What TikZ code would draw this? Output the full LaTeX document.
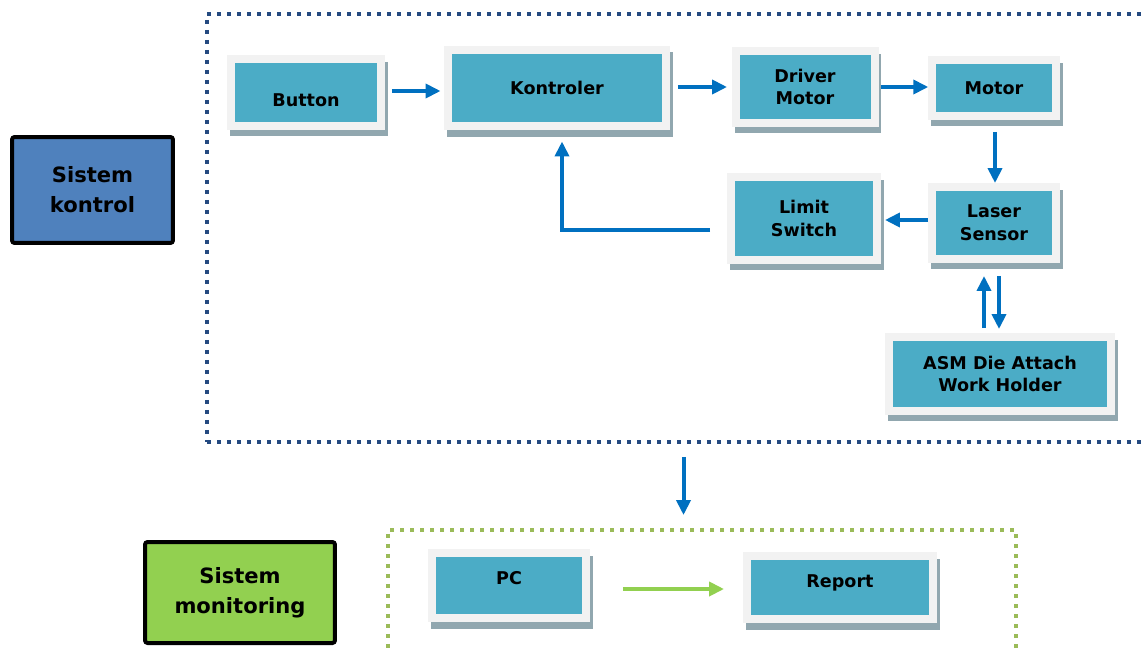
\documentclass[tikz,border=0pt]{standalone}
\usepackage{fontspec}
\setmainfont{DejaVu Sans}
\usetikzlibrary{arrows.meta,shadows}
\definecolor{biru}{RGB}{0,112,192}
\definecolor{birutua}{RGB}{36,74,128}
\definecolor{birusistem}{RGB}{79,129,189}
\definecolor{hijau}{RGB}{146,208,80}
\definecolor{hijaubingkai}{RGB}{155,187,89}
\definecolor{tosca}{RGB}{75,172,198}
\definecolor{abu}{RGB}{242,242,242}
\definecolor{bayang}{RGB}{145,167,175}

\begin{document}
\begin{tikzpicture}[x=0.02cm, y=-0.02cm]
\tikzset{kotak/.style={fill=tosca, draw=abu, line width=0.16cm, inner sep=0pt,
    align=center, font=\fontsize{10}{13}\selectfont\bfseries,
    drop shadow={shadow xshift=0.06cm, shadow yshift=-0.13cm, opacity=1,
      fill=bayang, draw=bayang, line width=0.16cm}},
  sistem/.style={draw=black, line width=0.08cm, rounded corners=1.5pt, inner sep=0pt,
    align=center, font=\fontsize{12}{17}\selectfont\bfseries},
  bingkai/.style={line width=0.08cm, dash pattern=on 0.08cm off 0.12cm, inner sep=0pt},
  panah/.style={draw=biru, line width=0.08cm, -{Triangle[length=0.3cm, width=0.28cm]}}}
\useasboundingbox (0,0) rectangle (1145,649);
\clip (0,0) rectangle (1145,649);
\node[bingkai, draw=birutua, minimum width=19.06cm, minimum height=8.56cm] (frameK) at (683.5,228) {};
\node[bingkai, draw=hijaubingkai, minimum width=12.56cm, minimum height=3.2cm] (frameM) at (702,610) {};
\node[sistem, fill=birusistem, minimum width=3.22cm, minimum height=2.12cm] (sisK) at (92.5,190) {Sistem\\kontrol};
\node[sistem, fill=hijau, minimum width=3.8cm, minimum height=2.02cm] (sisM) at (240,592.5) {Sistem\\monitoring};
\node[kotak, minimum width=3.0cm, minimum height=1.34cm,
  label={[font=\fontsize{10}{13}\selectfont\bfseries, yshift=-0.16cm]center:Button}] (button) at (306,92.5) {};
\node[kotak, minimum width=4.36cm, minimum height=1.54cm] (kontroler) at (557,88) {Kontroler};
\node[kotak, minimum width=2.78cm, minimum height=1.44cm] (driver) at (805,87) {Driver\\Motor};
\node[kotak, minimum width=2.47cm, minimum height=1.12cm] (motor) at (994,88) {Motor};
\node[kotak, minimum width=2.48cm, minimum height=1.44cm] (laser) at (994,223) {Laser\\Sensor};
\node[kotak, minimum width=2.92cm, minimum height=1.66cm] (limit) at (804,218.5) {Limit\\Switch};
\node[kotak, minimum width=4.44cm, minimum height=1.48cm] (asm) at (1000,374) {ASM Die Attach\\Work Holder};
\node[kotak, minimum width=3.08cm, minimum height=1.30cm,
  label={[font=\fontsize{10}{13}\selectfont\bfseries, yshift=0.14cm]center:PC}] (pc) at (509,585.5) {};
\node[kotak, minimum width=3.72cm, minimum height=1.26cm,
  label={[font=\fontsize{10}{13}\selectfont\bfseries, yshift=0.1cm]center:Report}] (report) at (840,587.5) {};
\draw[panah, shorten <=0.14cm, shorten >=0.07cm] ([yshift=0.03cm]button.east) -- ([yshift=0.03cm]button.east -| kontroler.west);
\draw[panah, shorten <=0.16cm, shorten >=0.09cm] ([yshift=0.02cm]kontroler.east) -- ([yshift=0.02cm]kontroler.east -| driver.west);
\draw[panah, shorten <=0.06cm] (driver.east) -- (driver.east -| motor.west);
\draw[panah, shorten <=0.24cm] ([xshift=0.02cm]motor.south) -- ([xshift=0.02cm]laser.north);
\draw[panah, shorten >=0.08cm] ([yshift=0.06cm]laser.west) -- ([yshift=0.06cm]laser.west -| limit.east);
\draw[panah, shorten <=0.34cm, shorten >=0.22cm] ([yshift=-0.23cm]limit.west) -| ([xshift=0.1cm]kontroler.south);
\draw[panah, shorten <=0.1cm, shorten >=0.26cm] ([xshift=-0.2cm]laser.south |- asm.north) -- ([xshift=-0.2cm]laser.south);
\draw[panah, shorten <=0.26cm, shorten >=0.08cm] ([xshift=0.1cm]laser.south) -- ([xshift=0.1cm]laser.south |- asm.north);
\draw[panah, shorten <=0.26cm, shorten >=0.26cm] (frameK.south) -- (frameK.south |- frameM.north);
\draw[panah, draw=hijau, shorten <=0.66cm, shorten >=0.38cm] ([yshift=-0.07cm]pc.east) -- ([yshift=-0.07cm]pc.east -| report.west);
\end{tikzpicture}
\end{document}
